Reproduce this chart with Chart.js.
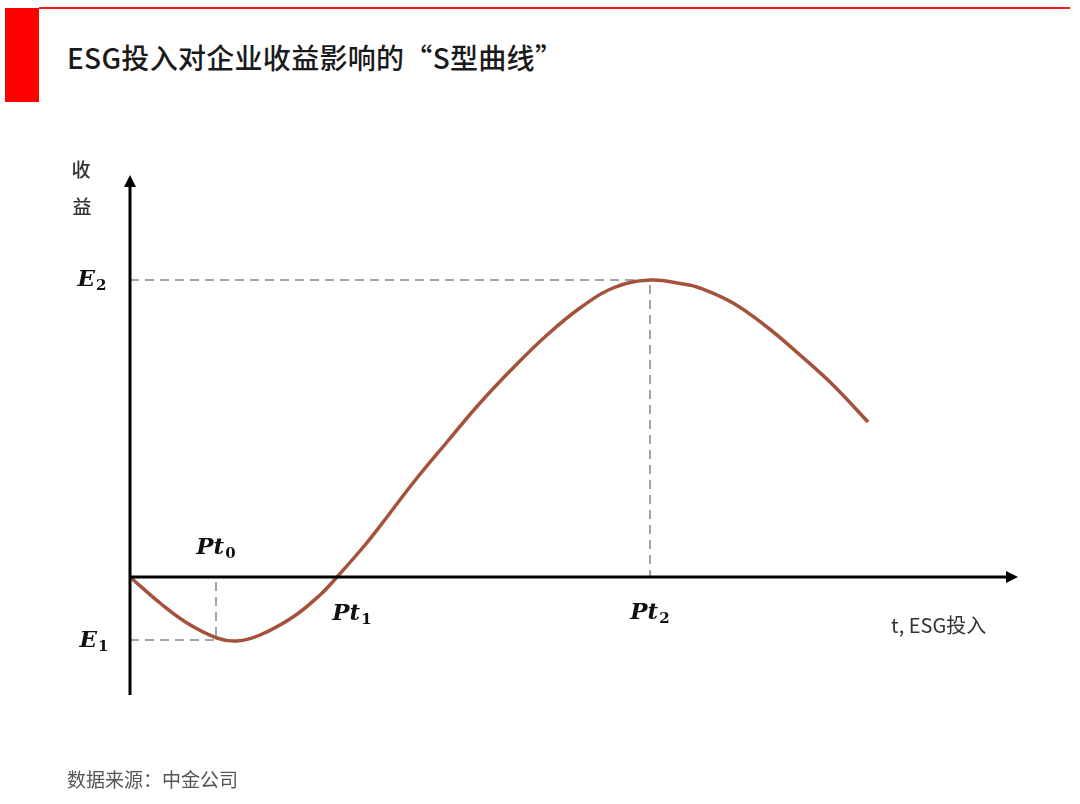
<!DOCTYPE html>
<html>
<head>
<meta charset="utf-8">
<script src="https://cdn.jsdelivr.net/npm/chart.js@4"></script>
<style>
  body { margin: 0; background: #fff; }
  #wrap { position: relative; width: 1080px; height: 804px; overflow: hidden; }
  #redbar { position: absolute; left: 5px; top: 8px; width: 34px; height: 94px; background: #ff0000; }
  #redline { position: absolute; left: 39px; top: 7px; width: 1031px; height: 2px; background: #f21a1a; }
  #title { position: absolute; left: 67px; top: 37px; font: 500 28px "Noto Sans CJK SC", sans-serif; color: #1a1a1a; letter-spacing: 0.3px; }
  #source { position: absolute; left: 67px; top: 765px; font: 19px "Noto Sans CJK SC", sans-serif; color: #555; }
  canvas { position: absolute; left: 0; top: 0; }
</style>
</head>
<body>
<div id="wrap">
  <div id="redbar"></div>
  <div id="redline"></div>
  <div id="title">ESG投入对企业收益影响的“S型曲线”</div>
  <canvas id="sCurve" width="1080" height="804"></canvas>
  <div id="source">数据来源：中金公司</div>
</div>
<script>
// S-curve (x: ESG input, y: revenue)
let investX  = [0, 30, 57, 87, 107, 130, 163, 190, 207, 235, 257, 283, 317, 350, 383, 417, 450, 483, 520, 553, 570, 603, 637, 670, 703, 738];
let revenueY = [0, -26, -46, -61, -64, -58, -40, -18, 0, 32, 60, 94, 135, 174, 209, 242, 269, 289, 297, 293, 289, 274, 250, 222, 192, 155];

// marked points
let ptNames  = ['0', '1', '2'];
let ptX      = [86, 207, 520];
let eNames   = ['1', '2'];
let eY       = [-63, 297];

let curve = investX.map((x, i) => ({ x: x, y: revenueY[i] }));

const dashStyle = {
    borderColor: '#a3a3a3',
    borderWidth: 2,
    borderDash: [9, 6],
    pointRadius: 0,
    fill: false,
    tension: 0
};

let data = {
    datasets: [{
        label: 'S型曲线',
        data: curve,
        borderColor: '#a4523a',
        borderWidth: 3.5,
        pointRadius: 0,
        tension: 0.4,
        order: 0
    },
    // E1 / Pt0 guides
    Object.assign({ data: [{ x: 0, y: eY[0] }, { x: ptX[0], y: eY[0] }, { x: ptX[0], y: 0 }], order: 2 }, dashStyle),
    // E2 / Pt2 guides
    Object.assign({ data: [{ x: 0, y: eY[1] }, { x: ptX[2], y: eY[1] }, { x: ptX[2], y: 0 }], order: 2 }, dashStyle)
    ]
};

// axes with arrows + math labels
const axisPlugin = {
    id: 'axisPlugin',
    afterDatasetsDraw(chart) {
        const ctx = chart.ctx;
        const xs = chart.scales.x, ys = chart.scales.y;
        const x0 = xs.getPixelForValue(0), y0 = ys.getPixelForValue(0);
        const xEnd = xs.getPixelForValue(xs.max), yTop = ys.getPixelForValue(ys.max), yBot = ys.getPixelForValue(ys.min);
        ctx.save();
        ctx.strokeStyle = '#000';
        ctx.fillStyle = '#000';
        ctx.lineWidth = 3;
        ctx.beginPath();
        ctx.moveTo(x0, yBot); ctx.lineTo(x0, yTop + 8);
        ctx.moveTo(x0, y0); ctx.lineTo(xEnd - 8, y0);
        ctx.stroke();
        ctx.beginPath();
        ctx.moveTo(x0, yTop); ctx.lineTo(x0 - 6, yTop + 12); ctx.lineTo(x0 + 6, yTop + 12); ctx.closePath();
        ctx.fill();
        ctx.beginPath();
        ctx.moveTo(xEnd, y0); ctx.lineTo(xEnd - 12, y0 - 6); ctx.lineTo(xEnd - 12, y0 + 6); ctx.closePath();
        ctx.fill();

        function mathLabel(main, sub, cx, cy) {
            ctx.font = 'bold italic 23px "DejaVu Serif"';
            const w1 = ctx.measureText(main).width;
            ctx.font = 'bold 15px "DejaVu Serif"';
            const w2 = ctx.measureText(sub).width;
            let left = cx - (w1 + w2 + 1) / 2;
            ctx.textBaseline = 'middle';
            ctx.textAlign = 'left';
            ctx.fillStyle = '#111';
            ctx.font = 'bold italic 23px "DejaVu Serif"';
            ctx.fillText(main, left, cy);
            ctx.font = 'bold 15px "DejaVu Serif"';
            ctx.fillText(sub, left + w1 + 1, cy + 6);
        }
        mathLabel('Pt', ptNames[0], xs.getPixelForValue(ptX[0]), y0 - 29);
        mathLabel('Pt', ptNames[1], xs.getPixelForValue(ptX[1]) + 15, y0 + 37);
        mathLabel('Pt', ptNames[2], xs.getPixelForValue(ptX[2]), y0 + 36);
        mathLabel('E', eNames[0], x0 - 36, ys.getPixelForValue(eY[0]) + 1);
        mathLabel('E', eNames[1], x0 - 38, ys.getPixelForValue(eY[1]));

        ctx.fillStyle = '#333';
        ctx.font = '500 19px "Noto Sans CJK SC"';
        ctx.textAlign = 'center';
        ctx.fillText('收', x0 - 49, yTop - 5);
        ctx.fillText('益', x0 - 48, yTop + 32);
        ctx.textAlign = 'left';
        ctx.font = '20px "Noto Sans CJK SC"';
        ctx.fillText('t, ESG投入', 891, y0 + 48);
        ctx.restore();
    }
};

const config = {
    responsive: false,
    animation: false,
    layout: {
        padding: { left: 130, right: 62, top: 175, bottom: 109 }
    },
    scales: {
        x: { type: 'linear', min: 0, max: 888, display: false },
        y: { type: 'linear', min: -118, max: 402, display: false }
    },
    plugins: {
        legend: { display: false },
        tooltip: { enabled: false }
    }
};

let s_Chart = document.getElementById('sCurve').getContext('2d');

let sCurveChart = new Chart(s_Chart, {
    type: 'line',
    data,
    options: config,
    plugins: [axisPlugin]
});
</script>
</body>
</html>
